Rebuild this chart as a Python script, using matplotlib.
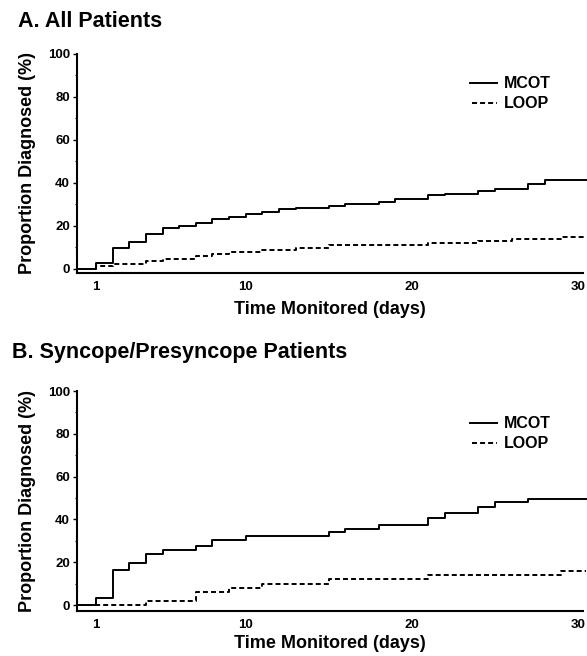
import matplotlib
matplotlib.use("Agg")
import matplotlib.pyplot as plt
import numpy as np
from matplotlib.ticker import MultipleLocator

plt.rcParams["font.family"] = ["Liberation Sans", "DejaVu Sans"]
plt.rcParams["font.weight"] = "bold"
plt.rcParams["lines.scale_dashes"] = False

# day at which each level starts (step-post), values in %
days = list(range(0, 31))
end_day = 30.5

mcot_all = [0, 2.5, 9.5, 12.4, 16.2, 19.0, 20.0, 21.4, 23.0, 24.3,
            25.3, 26.6, 27.6, 28.4, 28.4, 29.2, 30.1, 30.1, 31.0, 32.4,
            32.4, 34.1, 35.0, 35.0, 36.3, 37.3, 37.3, 39.4, 41.2, 41.2, 41.2]
loop_all = [0, 1.3, 2.1, 2.1, 3.6, 4.3, 4.3, 5.8, 6.7, 8.0,
            8.0, 8.8, 8.8, 9.6, 9.6, 11.2, 11.2, 11.2, 11.2, 11.2,
            11.2, 11.9, 11.9, 11.9, 12.9, 12.9, 13.7, 13.7, 13.7, 14.6, 14.6]

mcot_sync = [0, 3.1, 16.4, 19.5, 24.0, 25.7, 25.7, 27.5, 30.4, 30.4,
             32.3, 32.3, 32.3, 32.3, 32.3, 34.0, 35.7, 35.7, 37.3, 37.3,
             37.3, 40.8, 43.0, 43.0, 46.0, 47.9, 47.9, 49.5, 49.5, 49.5, 49.5]
loop_sync = [0, 0, 0, 0, 2.1, 2.1, 2.1, 6.0, 6.0, 7.8,
             7.8, 9.9, 9.9, 9.9, 9.9, 12.2, 12.2, 12.2, 12.2, 12.2,
             12.2, 14.0, 14.0, 14.0, 14.0, 14.0, 14.0, 14.0, 14.0, 16.0, 16.0]

x_ticks = [1, 10, 20, 30]
y_ticks = [0, 20, 40, 60, 80, 100]

W, H = 587, 656
LW = 1.4
DASH = (0, (3.6, 2.2))
fig = plt.figure(figsize=(W / 100, H / 100), dpi=100)


def fx(px):
    return px / W


def fy(py):
    return 1 - py / H


panels = [
    # title, mcot, loop, top px, bottom px, ymin, title x, title baseline, xlabel y, legend y
    ("A. All Patients", mcot_all, loop_all, 54, 272.7, -1.86, 18, 27, 310, 83),
    ("B. Syncope/Presyncope Patients", mcot_sync, loop_sync, 391, 610.7, -2.66, 12, 358, 643, 423),
]

for title, mcot, loop, top, bot, ymin, tx, ty, xly, legy in panels:
    ax = fig.add_axes([fx(77), fy(bot), fx(583) - fx(77), fy(top) - fy(bot)])
    xs = np.array(days + [end_day])
    ax.step(xs, mcot + [mcot[-1]], where="post", color="black", lw=LW, clip_on=False)
    ax.step(xs, loop + [loop[-1]], where="post", color="black", lw=LW,
            linestyle=DASH, clip_on=False)
    ax.set_xlim(-0.15, 30.3)
    ax.set_ylim(ymin, 100)
    for s in ["top", "right"]:
        ax.spines[s].set_visible(False)
    for s in ["left", "bottom"]:
        ax.spines[s].set_linewidth(1.5)
    ax.set_xticks(x_ticks)
    ax.set_yticks(y_ticks)
    ax.yaxis.set_minor_locator(MultipleLocator(10))
    ax.tick_params(axis="x", length=0, pad=6, labelsize=9.5)
    ax.tick_params(axis="y", which="major", length=3, width=1, pad=2, labelsize=9.5)
    ax.tick_params(axis="y", which="minor", length=1.5, width=0.8)
    for lab in ax.get_xticklabels() + ax.get_yticklabels():
        lab.set_fontweight("bold")

    fig.text(fx(tx), fy(ty), title, fontsize=15.5, fontweight="bold", va="baseline", ha="left")
    fig.text(fx(28), fy((top + bot) / 2), "Proportion Diagnosed (%)", rotation=90,
             fontsize=13, fontweight="bold", va="center", ha="center")
    fig.text(fx(330), fy(xly), "Time Monitored (days)", fontsize=13,
             fontweight="bold", va="center", ha="center")

    # legend drawn by hand
    fig.add_artist(plt.Line2D([fx(470), fx(497)], [fy(legy), fy(legy)], color="black", lw=LW))
    fig.add_artist(plt.Line2D([fx(472), fx(497)], [fy(legy + 20), fy(legy + 20)], color="black",
                              lw=LW, linestyle=DASH))
    fig.text(fx(504), fy(legy), "MCOT", fontsize=11.5, fontweight="bold", va="center", ha="left")
    fig.text(fx(504), fy(legy + 20), "LOOP", fontsize=11.5, fontweight="bold", va="center", ha="left")

fig.savefig("out.png", dpi=100)
